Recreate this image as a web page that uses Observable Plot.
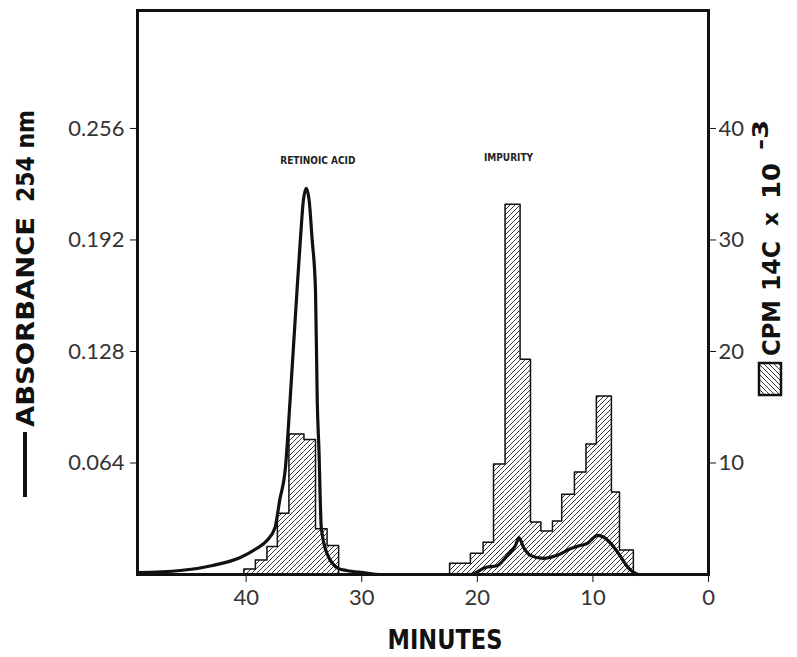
<!DOCTYPE html>
<html><head><meta charset="utf-8">
<script src="https://cdn.jsdelivr.net/npm/d3@7"></script>
<script src="https://cdn.jsdelivr.net/npm/@observablehq/plot@0.6"></script>
<style>body{margin:0;background:#fff}</style>
</head><body><div id="chart"></div>
<script>
// ---- data ----
const raEdges  = [40.2, 39.2, 38.2, 37.3, 36.3, 35.0, 34.0, 33.0, 32.0];
const raCounts = [0.5, 1.3, 2.5, 5.5, 12.6, 12.1, 4.1, 2.6];
const impEdges  = [22.4, 21.5, 20.6, 19.5, 18.6, 17.6, 16.3, 15.4, 14.5, 13.5, 12.7, 11.6, 10.6, 9.7, 8.4, 7.7, 6.5];
const impCounts = [1.0, 1.0, 1.9, 2.9, 9.9, 33.2, 19.3, 4.7, 3.9, 4.8, 7.2, 9.2, 11.7, 16.0, 7.4, 2.2];
const absMinutes = [49.4, 45.7, 42.9, 40.5, 39.1, 38.2, 37.5, 37.1, 36.6, 36.2, 35.6, 35.3, 35.05, 34.8, 34.55, 34.3, 34.0, 33.85, 33.7, 33.5, 33.0, 32.0, 31.3, 29.9, 28.4,
                    20.6, 19.3, 18.3, 17.4, 16.7, 16.4, 16.0, 15.4, 14.3, 13.1, 11.9, 11.1, 10.5, 9.6, 8.7, 8.1, 7.6, 7.1, 6.6, 6.1];
const absValues  = [0.0011, 0.0023, 0.0052, 0.0098, 0.0149, 0.0195, 0.027, 0.0425, 0.0614, 0.0999, 0.163, 0.193, 0.2147, 0.2216, 0.2147, 0.193, 0.163, 0.0999, 0.0712, 0.027, 0.012, 0.0034, 0.0023, 0.0011, 0,
                    0, 0.004, 0.005, 0.011, 0.0166, 0.0212, 0.0155, 0.011, 0.0092, 0.011, 0.0149, 0.0166, 0.0178, 0.0224, 0.0195, 0.0149, 0.0103, 0.0052, 0.0017, 0];
const xTicks   = [40, 30, 20, 10, 0];
const absTicks = [0.064, 0.128, 0.192, 0.256];
const cpmTicks = [10, 20, 30, 40];
const peakLabels = ["RETINOIC ACID", "IMPURITY"];
const peakLabelX = [33.8, 17.3];
const peakLabelY = [0.2377, 0.239];

// CPM (x10^-3) to absorbance-axis units: 10 CPM <-> 0.064
const CPM2ABS = 0.0064;

// ---- derived tables ----
function bins(edges, counts, group) {
  return counts.map((c, i) => ({x1: edges[i], x2: edges[i + 1], y: c * CPM2ABS, group}));
}
const histo = [...bins(raEdges, raCounts, "ra"), ...bins(impEdges, impCounts, "imp")];
function outline(edges, counts, group) {
  const pts = [{x: edges[0], y: 0, group}];
  counts.forEach((c, i) => {
    pts.push({x: edges[i], y: c * CPM2ABS, group});
    pts.push({x: edges[i + 1], y: c * CPM2ABS, group});
  });
  pts.push({x: edges[edges.length - 1], y: 0, group});
  return pts;
}
const outlinePts = [...outline(raEdges, raCounts, "ra"), ...outline(impEdges, impCounts, "imp")];
const absData = absMinutes.map((t, i) => ({t, a: absValues[i]}));
const labelData = peakLabels.map((s, i) => ({s, x: peakLabelX[i], y: peakLabelY[i]}));

const tickFont = "Lato, 'Open Sans', sans-serif";

const svg = Plot.plot({
  width: 797, height: 657,
  marginLeft: 137, marginRight: 89, marginTop: 10, marginBottom: 83,
  x: {domain: [49.4, 0]},
  y: {domain: [0, 0.3237]},
  style: {background: "#fff", color: "#111"},
  marks: [
    Plot.rect(histo, {x1: "x1", x2: "x2", y1: 0, y2: "y", fill: "url(#hatch)"}),
    Plot.line(outlinePts, {x: "x", y: "y", z: "group", stroke: "#111", strokeWidth: 1.5, curve: "linear"}),
    Plot.line(absData, {x: "t", y: "a", stroke: "#111", strokeWidth: 3.2, curve: "monotone-x"}),
    Plot.text(labelData, {x: "x", y: "y", text: "s", fontSize: 10, fontWeight: "bold", fill: "#222",
      fontFamily: "'Liberation Sans Narrow', 'DejaVu Sans Condensed', sans-serif"}),
    Plot.axisX(xTicks, {anchor: "bottom", tickSize: 8, tickPadding: 7, fontSize: 22, fill: "#333",
      fontFamily: tickFont, label: null, tickFormat: d => String(d)}),
    Plot.axisY(absTicks, {anchor: "left", tickSize: 7, tickPadding: 6, fontSize: 22, fill: "#333",
      fontFamily: tickFont, label: null, tickFormat: d => d.toFixed(3)}),
    Plot.axisY(cpmTicks.map(c => c * CPM2ABS), {anchor: "right", tickSize: 7, tickPadding: 3, fontSize: 22, fill: "#333",
      fontFamily: tickFont, label: null, tickFormat: d => String(Math.round(d / CPM2ABS))}),
    Plot.frame({stroke: "#111", strokeWidth: 3})
  ]
});

const s = d3.select(svg);
const defs = s.insert("defs", ":first-child");
function hatch(id, rot) {
  defs.append("pattern").attr("id", id).attr("patternUnits", "userSpaceOnUse")
    .attr("width", 5).attr("height", 5).attr("patternTransform", `rotate(${rot})`)
    .append("path").attr("d", "M-1,1 l2,-2 M0,5 l5,-5 M4,6 l2,-2")
    .attr("stroke", "#222").attr("stroke-width", 0.9);
}
hatch("hatch", 0);
hatch("hatch2", 90);

const boldFont = "'Liberation Sans Narrow', 'DejaVu Sans Condensed', 'Liberation Sans', sans-serif";
function vtext(x, y, str, len, size) {
  s.append("text").attr("transform", `translate(${x},${y}) rotate(-90)`)
    .attr("text-anchor", "start")
    .attr("font-family", boldFont).attr("font-weight", "bold").attr("font-size", size)
    .attr("fill", "#111").attr("textLength", len).attr("lengthAdjust", "spacingAndGlyphs")
    .text(str);
}
// left axis title with line symbol
s.append("line").attr("x1", 25).attr("x2", 25).attr("y1", 432).attr("y2", 497)
  .attr("stroke", "#111").attr("stroke-width", 4);
vtext(34, 427, "ABSORBANCE", 210, 25);
vtext(34, 202, "254 nm", 92, 25);
// right axis title with hatched symbol
s.append("rect").attr("x", 759).attr("y", 363).attr("width", 22).attr("height", 32)
  .attr("fill", "url(#hatch2)").attr("stroke", "#111").attr("stroke-width", 2.5);
vtext(780, 356, "CPM", 56, 25);
vtext(780, 291, "14C", 50, 25);
vtext(778, 226, "x", 14, 22);
vtext(780, 199, "10", 36, 25);
vtext(768, 150, "-3", 30, 21);
// x title
s.append("text").attr("x", 445).attr("y", 649).attr("text-anchor", "middle")
  .attr("font-family", boldFont).attr("font-weight", "bold").attr("font-size", 27)
  .attr("fill", "#111").attr("textLength", 115).attr("lengthAdjust", "spacingAndGlyphs")
  .text("MINUTES");

document.getElementById("chart").appendChild(svg);
</script>
</body></html>
